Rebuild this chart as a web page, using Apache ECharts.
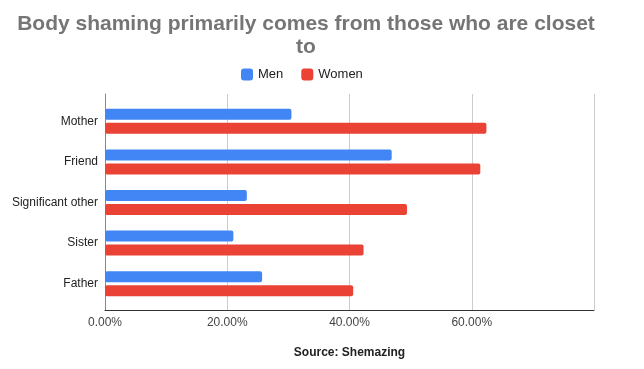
<!DOCTYPE html>
<html><head><meta charset="utf-8">
<script src="https://cdn.jsdelivr.net/npm/echarts@6/dist/echarts.min.js"></script>
<style>html,body{margin:0;padding:0;background:#fff}#c{width:644px;height:369px}</style>
</head><body><div id="c"></div>
<script>
const categories = ['Mother', 'Friend', 'Significant other', 'Sister', 'Father'];
const menValues = [30.5, 46.9, 23.2, 21.0, 25.7];
const womenValues = [62.4, 61.4, 49.4, 42.3, 40.6];
const xTicks = [0, 20, 40, 60, 80];
const titleText = 'Body shaming primarily comes from those who are closet\nto';
const sourceText = 'Source: Shemazing';

const chart = echarts.init(document.getElementById('c'), null, {renderer: 'canvas'});
const font = 'Arial, "Liberation Sans", sans-serif';
chart.setOption({
  animation: false,
  title: {
    text: titleText, left: 301, top: 8, textAlign: 'center',
    textStyle: {fontFamily: font, fontSize: 21, fontWeight: 'bold', color: '#757575', lineHeight: 23}
  },
  legend: {
    top: 63, left: 236, itemWidth: 12, itemHeight: 12, itemGap: 18, icon: 'roundRect',
    textStyle: {fontFamily: font, fontSize: 13, color: '#222'},
    data: ['Men', 'Women']
  },
  grid: [
    {left: 105, right: 50, top: 101, bottom: 65},
    {left: 105, right: 50, top: 94, bottom: 59}
  ],
  xAxis: [
    {gridIndex: 0, type: 'value', min: xTicks[0], max: xTicks[xTicks.length-1], interval: 20, show: false},
    {gridIndex: 1, type: 'value', min: xTicks[0], max: xTicks[xTicks.length-1], interval: 20,
     axisLine: {show: true, lineStyle: {color: '#333', width: 1}},
     axisTick: {show: false},
     splitLine: {show: true, lineStyle: {color: '#cccccc', width: 1}},
     axisLabel: {showMaxLabel: false, margin: 7, fontFamily: font, fontSize: 12, color: '#444',
       formatter: v => v.toFixed(2) + '%'},
     name: sourceText, nameLocation: 'middle', nameGap: 37,
     nameTextStyle: {fontFamily: font, fontSize: 12, fontWeight: 'bold', color: '#222'}
    }
  ],
  yAxis: [
    {gridIndex: 0, type: 'category', data: categories, inverse: true,
     axisLine: {show: false}, axisTick: {show: false},
     axisLabel: {margin: 7, fontFamily: font, fontSize: 12, color: '#222'}},
    {gridIndex: 1, type: 'category', data: categories, inverse: true,
     axisLine: {show: true, lineStyle: {color: '#888', width: 1}}, axisTick: {show: false},
     axisLabel: {show: false}, splitLine: {show: false}}
  ],
  series: [
    {name: 'Men', type: 'bar', xAxisIndex: 0, yAxisIndex: 0, data: menValues,
     barWidth: 11, barGap: '27%', itemStyle: {color: '#4285F4', borderRadius: 2}},
    {name: 'Women', type: 'bar', xAxisIndex: 0, yAxisIndex: 0, data: womenValues,
     barWidth: 11, barGap: '27%', itemStyle: {color: '#EA4335', borderRadius: 2}}
  ]
});
</script></body></html>
